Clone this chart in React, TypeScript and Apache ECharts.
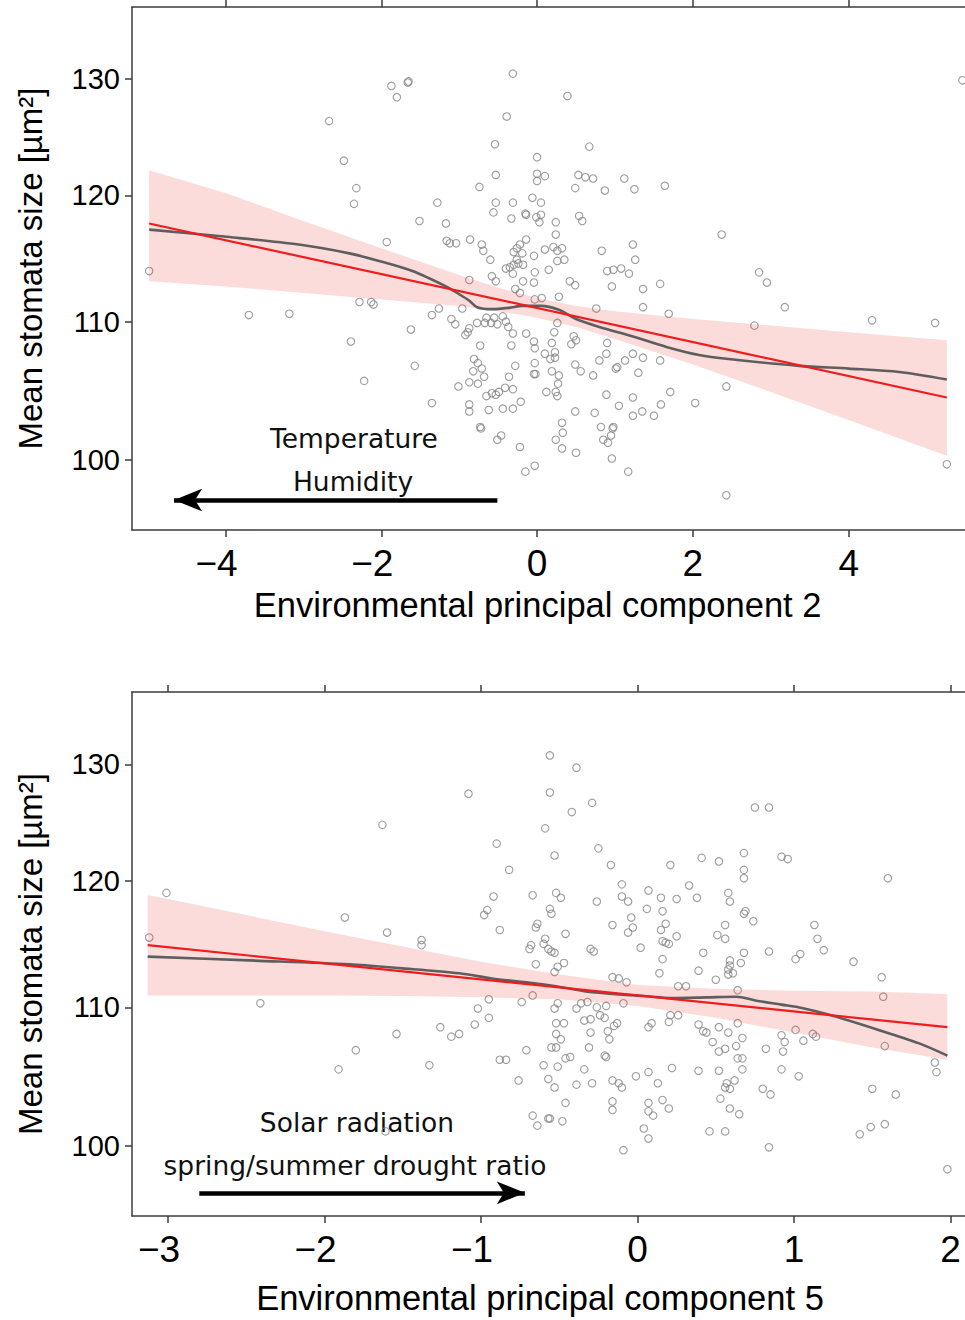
import React, { useEffect, useRef } from "react";
import * as echarts from "echarts";

// ---------- tick labels ----------
const pc2Ticks = [-4, -2, 0, 2, 4];
const pc5Ticks = [-3, -2, -1, 0, 1, 2];
const sizeTicks = [100, 110, 120, 130];

// ---------- panel 1: PC2 ----------
const pc2Scatter: number[][] = [
  [-4.98, 113.9], [-3.7, 110.5], [-3.18, 110.6], [-2.67, 126.3], [-2.48, 122.9], [-2.39, 108.5], [-2.35, 119.3],
  [-2.32, 120.6], [-2.28, 111.5], [-2.22, 105.6], [-2.13, 111.5], [-2.1, 111.3],
  [-0.31, 130.5], [-1.87, 129.4], [-1.66, 129.7], [-1.65, 129.8], [-1.8, 128.4], [-0.39, 126.7], [-0.54, 124.3],
  [0.0, 123.2], [-0.53, 121.7], [0.0, 121.8], [0.1, 121.6], [0.0, 121.2], [-0.74, 120.7], [-0.06, 119.8],
  [0.05, 119.4], [-0.53, 119.4], [-0.31, 119.4], [-0.56, 118.6], [-1.28, 119.4], [-0.15, 118.5], [-0.14, 118.4],
  [-0.01, 118.2], [0.05, 118.4], [0.03, 117.8], [-0.33, 118.1], [-1.51, 117.9], [-1.17, 117.7], [0.24, 117.8],
  [0.24, 116.8], [-1.93, 116.2], [-1.16, 116.3], [-1.12, 116.1], [-1.04, 116.1], [-0.86, 116.4], [-0.71, 116.0],
  [-0.69, 115.5], [-0.14, 116.4], [-0.22, 116.0], [-0.26, 115.7], [0.1, 115.6], [0.21, 115.8], [0.26, 115.5],
  [-0.3, 115.4], [-0.19, 115.3], [-0.04, 115.1], [-0.6, 114.8], [-0.4, 114.1], [-0.35, 114.2], [-0.3, 114.4],
  [-0.24, 114.5], [-0.18, 114.4], [-0.26, 114.8], [-0.31, 113.7], [-0.03, 113.8], [0.15, 114.0], [0.26, 114.7],
  [-0.58, 113.5], [-0.53, 113.1], [-0.18, 113.1], [-0.04, 113.0], [-0.87, 113.2], [-0.28, 112.5], [-0.22, 112.2],
  [0.06, 111.8], [-0.03, 111.7], [-1.26, 111.0], [-1.35, 110.5], [-0.96, 111.0], [-1.1, 110.2], [-1.05, 109.8],
  [-1.62, 109.4], [-0.87, 109.5], [-0.92, 109.0], [-0.89, 109.2], [-0.77, 109.9], [-0.65, 110.3], [-0.67, 109.9],
  [-0.59, 109.9], [-0.51, 109.8], [-0.55, 110.3], [-0.44, 110.4], [-0.4, 110.0], [-0.37, 109.6], [-0.31, 109.1],
  [-0.14, 109.1], [0.22, 109.2], [0.26, 109.9], [-0.73, 108.2], [-0.33, 108.2], [-0.04, 108.5], [-0.03, 108.0],
  [0.1, 107.6], [0.19, 108.4], [0.23, 107.7], [0.17, 107.2], [0.23, 107.3], [-1.57, 106.7], [-0.81, 107.2],
  [-0.76, 106.9], [-0.71, 106.5], [-0.82, 106.3], [-0.68, 105.9], [-0.28, 106.7], [-0.03, 106.9], [-0.04, 106.1],
  [-0.02, 106.1], [0.19, 106.3], [-0.36, 105.9], [-1.01, 105.2], [-0.87, 105.5], [-0.76, 105.4], [-0.65, 104.5],
  [-0.58, 104.7], [-0.53, 104.6], [-0.49, 104.8], [-0.41, 105.1], [-0.31, 105.0], [0.12, 104.8], [0.24, 104.8],
  [0.26, 104.5], [0.27, 105.4], [-1.35, 104.0], [-0.87, 103.9], [-0.87, 103.4], [-0.62, 103.5], [-0.44, 103.6],
  [-0.31, 103.6], [-0.21, 104.1], [-0.73, 102.3], [-0.72, 102.2], [-0.46, 101.7], [-0.51, 101.4], [-0.22, 100.9],
  [0.24, 101.4], [-0.03, 99.6], [-0.15, 99.2],
  [0.39, 128.5], [0.67, 124.1], [0.53, 121.7], [0.62, 121.5], [0.72, 121.4], [1.12, 121.4], [0.49, 120.6],
  [0.87, 120.4], [1.25, 120.5], [1.64, 120.8], [0.54, 118.3], [0.58, 117.9], [2.37, 116.8], [0.32, 115.7],
  [0.35, 114.8], [0.83, 115.5], [1.23, 116.0], [1.26, 114.8], [0.9, 113.9], [0.98, 114.0], [1.08, 114.1],
  [1.18, 113.7], [0.42, 113.1], [0.49, 112.8], [0.96, 112.7], [1.36, 112.5], [1.58, 112.9], [0.28, 111.9],
  [0.76, 111.0], [1.36, 111.1], [1.69, 110.6], [0.47, 108.9], [0.5, 108.6], [0.44, 108.3], [0.9, 108.4],
  [0.89, 107.6], [1.23, 107.6], [1.36, 107.3], [1.58, 107.1], [0.8, 107.1], [1.13, 107.1], [0.49, 106.8],
  [0.56, 106.3], [1.03, 106.6], [1.01, 106.5], [1.3, 106.2], [0.72, 106.0], [0.28, 106.0], [2.43, 105.2],
  [1.71, 104.8], [2.03, 104.0], [0.89, 104.6], [1.23, 104.4], [1.05, 103.8], [1.59, 103.9], [0.49, 103.4],
  [0.74, 103.3], [1.23, 103.1], [1.35, 103.4], [1.5, 103.1], [0.32, 102.6], [0.33, 101.9], [0.82, 102.3],
  [0.98, 102.3], [0.97, 102.2], [0.95, 101.7], [0.91, 101.2], [0.85, 101.4], [0.32, 100.8], [0.5, 100.5],
  [0.96, 100.1], [1.17, 99.2], [2.43, 97.6],
  [2.85, 113.8], [2.95, 113.0], [3.18, 111.1], [2.79, 109.7], [4.3, 110.1], [5.11, 109.9], [5.26, 99.7], [5.46, 129.9],
];
const pc2Fit: number[][] = [[-4.98, 117.7], [5.26, 104.4]];
const pc2BandX = [-4.98, -4, -3, -2, -1, -0.5, 0, 0.5, 1, 2, 3, 4, 5.26];
const pc2BandHi = [122.1, 120.2, 117.9, 115.7, 113.6, 112.6, 111.8, 111.2, 110.8, 110.2, 109.7, 109.2, 108.6];
const pc2BandLo = [113.1, 112.7, 112.2, 111.7, 111.2, 110.8, 110.3, 109.6, 108.7, 106.8, 104.8, 102.8, 100.3];
const pc2Loess: number[][] = [
  [-4.98, 117.2], [-3.95, 116.6], [-3.06, 116.0], [-2.41, 115.3], [-2.03, 114.7], [-1.6, 113.9], [-1.17, 112.7],
  [-1.0, 112.1], [-0.87, 111.6], [-0.77, 111.1], [-0.58, 110.95], [-0.36, 111.05], [-0.19, 111.2], [0.05, 111.2],
  [0.28, 110.9], [0.5, 110.2], [0.8, 109.6], [1.22, 108.9], [1.66, 108.1], [2.08, 107.5], [2.46, 107.2],
  [3.36, 106.7], [4.0, 106.5], [4.65, 106.25], [5.26, 105.7],
];

// ---------- panel 2: PC5 ----------
const pc5Scatter: number[][] = [
  [-0.56, 130.8], [-0.39, 129.7], [-1.08, 127.4], [-0.56, 127.5], [-0.29, 126.6], [-0.42, 125.8], [-0.59, 124.4],
  [-0.9, 123.1], [-0.25, 122.7], [-0.53, 122.1], [-0.82, 120.9], [-0.17, 121.3], [-0.1, 119.7], [-0.92, 118.7],
  [-0.67, 118.8], [-0.52, 119.0], [-0.49, 118.6], [-0.26, 118.3], [-0.1, 118.7], [-0.06, 118.3], [0.07, 119.2],
  [0.06, 117.7], [-0.96, 117.6], [-0.98, 117.2], [-0.56, 117.7], [-0.55, 117.3], [-0.04, 117.0], [-0.64, 116.5],
  [-0.65, 116.2], [-0.88, 116.0], [-0.46, 115.7], [-0.16, 116.4], [-0.03, 116.2], [-0.06, 115.8], [-0.59, 115.3],
  [-0.6, 114.9], [-0.57, 114.5], [-0.55, 114.3], [-0.53, 114.2], [-0.68, 114.8], [-0.69, 114.5], [-0.3, 114.5],
  [-0.28, 114.3], [0.02, 114.6], [-0.65, 113.3], [-0.47, 113.4], [-0.51, 113.1], [-0.53, 112.7], [-0.16, 112.3],
  [-0.12, 112.2], [-0.07, 111.9], [-0.74, 110.4], [-0.67, 110.9], [-0.95, 110.6], [-1.02, 109.9], [-0.95, 109.2],
  [-1.04, 108.7], [-1.14, 108.0], [-0.51, 110.3], [-0.53, 109.9], [-0.39, 109.9], [-0.36, 110.3], [-0.32, 110.4],
  [-0.26, 110.0], [-0.2, 110.1], [-0.09, 110.3], [-0.52, 108.8], [-0.47, 108.8], [-0.34, 109.0], [-0.3, 109.1],
  [-0.24, 109.4], [-0.21, 109.2], [0.07, 108.5], [-0.3, 108.1], [-0.19, 108.2], [-0.18, 107.6], [-0.15, 108.6],
  [-0.13, 108.8], [-0.52, 108.0], [-0.49, 107.6], [-0.55, 107.0], [-0.52, 107.0], [-0.31, 107.0], [-0.71, 106.8],
  [-0.88, 106.1], [-0.84, 106.1], [-0.46, 106.2], [-0.43, 106.3], [-0.21, 106.4], [-0.2, 106.3], [-0.6, 105.7],
  [-0.51, 105.6], [-0.34, 105.4], [-0.76, 104.6], [-0.57, 104.7], [-0.53, 104.1], [-0.39, 104.3], [-0.29, 104.4],
  [-0.16, 104.6], [-0.12, 104.4], [-0.1, 104.1], [-0.01, 104.9], [0.07, 105.2], [-0.46, 103.0], [-0.16, 103.1],
  [-0.16, 102.5], [0.07, 103.0], [0.07, 102.4], [-0.67, 102.1], [-0.64, 101.4], [-0.57, 101.9], [-0.56, 101.9],
  [-0.48, 101.7], [0.04, 101.2], [0.07, 100.5], [-0.09, 99.7],
  [0.75, 126.2], [0.84, 126.2], [0.41, 121.9], [0.52, 121.6], [0.68, 122.3], [0.92, 122.0], [0.96, 121.8],
  [0.21, 121.3], [0.68, 120.9], [0.68, 120.2], [0.33, 119.6], [0.15, 118.6], [0.25, 118.5], [0.38, 118.6],
  [0.58, 119.0], [0.59, 118.3], [0.16, 117.5], [0.69, 117.5], [0.68, 117.3], [0.74, 116.7], [0.18, 116.5],
  [0.15, 116.0], [0.25, 115.5], [0.56, 116.4], [0.51, 115.6], [0.56, 115.3], [0.16, 115.1], [0.18, 115.0],
  [0.2, 114.9], [1.13, 116.4], [1.15, 115.3], [1.19, 114.4], [0.16, 113.7], [0.42, 114.2], [0.68, 114.2],
  [0.84, 114.3], [1.04, 114.1], [1.01, 113.7], [0.59, 113.6], [0.59, 113.2], [0.58, 112.9], [0.61, 112.6],
  [0.58, 112.5], [0.66, 113.4], [0.14, 112.6], [0.39, 112.8], [0.5, 112.1], [0.26, 111.6], [0.31, 111.6],
  [0.64, 111.3], [0.21, 109.4], [0.2, 108.9], [0.26, 109.4], [0.09, 108.8], [0.39, 108.7], [0.42, 108.2],
  [0.44, 108.1], [0.52, 108.5], [0.58, 108.1], [0.64, 108.8], [0.67, 107.7], [0.48, 107.4], [0.52, 106.7],
  [0.56, 106.9], [0.63, 107.1], [0.64, 106.2], [0.67, 106.2], [0.82, 106.9], [0.92, 107.9], [0.94, 107.4],
  [0.93, 106.7], [1.01, 108.3], [1.06, 107.5], [1.12, 108.0], [1.14, 107.8], [0.22, 105.5], [0.39, 105.3],
  [0.52, 105.3], [0.67, 105.4], [0.92, 105.4], [1.03, 104.9], [0.13, 104.4], [0.57, 104.4], [0.56, 104.1],
  [0.59, 104.0], [0.62, 104.6], [0.8, 104.0], [0.85, 103.6], [0.53, 103.3], [0.16, 103.2], [0.1, 102.1],
  [0.2, 102.6], [0.59, 102.6], [0.65, 102.2], [0.46, 101.0], [0.56, 101.0], [0.84, 99.9],
  [-3.12, 115.4], [-3.01, 119.0], [-2.41, 110.3], [-1.87, 117.0], [-1.63, 124.7], [-1.6, 115.8], [-1.38, 115.2],
  [-1.38, 114.8], [-1.54, 108.0], [-1.8, 106.8], [-1.91, 105.4], [-1.33, 105.7], [-1.61, 101.0], [-1.19, 107.8],
  [-1.26, 108.5],
  [1.38, 113.5], [1.6, 120.2], [1.56, 112.3], [1.57, 110.8], [1.58, 107.1], [1.5, 104.0], [1.65, 103.6],
  [1.42, 100.8], [1.49, 101.3], [1.58, 101.5], [1.9, 105.9], [1.91, 105.2], [1.98, 98.4],
];
const pc5Fit: number[][] = [[-3.13, 114.8], [1.98, 108.5]];
const pc5BandX = [-3.13, -3, -2.5, -2, -1.5, -1, -0.5, 0, 0.5, 1, 1.5, 1.98];
const pc5BandHi = [118.8, 118.5, 117.2, 115.9, 114.7, 113.5, 112.5, 111.7, 111.4, 111.25, 111.2, 111.0];
const pc5BandLo = [110.9, 110.9, 110.9, 110.9, 110.85, 110.75, 110.6, 110.1, 109.2, 108.1, 107.0, 106.1];
const pc5Loess: number[][] = [
  [-3.13, 113.9], [-2.48, 113.6], [-1.84, 113.3], [-1.52, 113.0], [-1.14, 112.6], [-0.93, 112.2], [-0.71, 111.9],
  [-0.52, 111.6], [-0.33, 111.2], [-0.14, 111.0], [0.04, 110.85], [0.22, 110.7], [0.44, 110.75], [0.63, 110.8],
  [0.76, 110.5], [0.92, 110.2], [1.05, 109.95], [1.22, 109.45], [1.54, 108.3], [1.8, 107.3], [1.98, 106.4],
];

// ---------- annotation arrows (data coords: tail -> tip) ----------
const pc2Arrow = { from: [-0.51, 97.28], to: [-4.66, 97.28] };
const pc5Arrow = { from: [-2.8, 96.82], to: [-0.72, 96.82] };

const Y_MIN = 95.29;
const Y_MAX = 136.63;

const L = (v: number) => Math.log10(v);
const toLog = (pts: number[][]) => pts.map(([x, y]) => [x, L(y)]);

const AXIS_COLOR = "#3c3c3c";
const SANS = '"Liberation Sans", Arial, Helvetica, sans-serif';
const BAND_FILL = "rgba(236,40,40,0.17)";

function xAxes(grid: number, min: number, max: number, ticks: number[], name: string, nameGap: number, nameShift: number) {
  const line = { show: true, onZero: false, lineStyle: { color: AXIS_COLOR, width: 1.5 } };
  const tick = { show: true, customValues: ticks, length: 7, inside: false, lineStyle: { color: AXIS_COLOR, width: 1.5 } };
  const lab = { fontSize: 37, color: "#000", fontFamily: SANS };
  return [
    {
      gridIndex: grid, type: "value", min, max, position: "bottom",
      axisLine: line, axisTick: tick,
      axisLabel: {
        customValues: ticks, margin: 15,
        formatter: (v: number) => (v < 0 ? "{n|\u2212" + Math.abs(v) + "}" : "{p|" + v + "}"),
        rich: { n: { ...lab, padding: [0, 18, 0, 0] }, p: { ...lab } },
      },
      splitLine: { show: false },
      name, nameLocation: "middle", nameGap,
      nameTextStyle: { fontSize: 34.5, color: "#000", fontFamily: SANS, padding: [0, nameShift, 0, 0] },
    },
    {
      gridIndex: grid, type: "value", min, max, position: "top",
      axisLine: line, axisTick: tick, axisLabel: { show: false }, splitLine: { show: false },
    },
  ];
}

function yAxis(grid: number) {
  const vals = sizeTicks.map(L);
  return {
    gridIndex: grid, type: "value", min: L(Y_MIN), max: L(Y_MAX),
    axisLine: { show: true, onZero: false, lineStyle: { color: AXIS_COLOR, width: 1.5 } },
    axisTick: { show: true, customValues: vals, length: 7, lineStyle: { color: AXIS_COLOR, width: 1.5 } },
    axisLabel: {
      customValues: vals, formatter: (v: number) => String(Math.round(Math.pow(10, v))),
      fontSize: 29, color: "#000", margin: 12, fontFamily: SANS,
    },
    splitLine: { show: false },
    name: "Mean stomata size [µm²]", nameLocation: "middle", nameGap: 85,
    nameTextStyle: { fontSize: 33, color: "#000", fontFamily: SANS },
  };
}

function panelSeries(
  xIdx: number, yIdx: number,
  scatter: number[][], fit: number[][], bx: number[], bhi: number[], blo: number[], loess: number[][],
  arrow: { from: number[]; to: number[] }
) {
  return [
    {
      type: "custom", xAxisIndex: xIdx, yAxisIndex: yIdx, silent: true, z: 3,
      data: bx.map((x, i) => [x, L(blo[i]), L(bhi[i])]),
      encode: { x: 0, y: [1, 2] },
      renderItem: (params: any, api: any) => {
        if (params.dataIndex !== 0) return { type: "group", children: [] };
        const upper = bx.map((x, i) => api.coord([x, L(bhi[i])]));
        const lower = bx.map((x, i) => api.coord([x, L(blo[i])])).reverse();
        return { type: "polygon", shape: { points: upper.concat(lower) }, style: { fill: BAND_FILL } };
      },
    },
    {
      type: "scatter", xAxisIndex: xIdx, yAxisIndex: yIdx, data: toLog(scatter),
      symbol: "circle", symbolSize: 7.5, silent: true, z: 2,
      itemStyle: { color: "rgba(255,255,255,0)", borderColor: "#858585", borderWidth: 1.1 },
    },
    {
      type: "line", xAxisIndex: xIdx, yAxisIndex: yIdx, data: toLog(loess),
      symbol: "none", silent: true, smooth: 0.3, lineStyle: { color: "#5e5e5e", width: 2.6 }, z: 4,
    },
    {
      type: "line", xAxisIndex: xIdx, yAxisIndex: yIdx, data: toLog(fit),
      symbol: "none", silent: true, lineStyle: { color: "#f01c1c", width: 2.2 }, z: 5,
      markLine: {
        silent: true, animation: false,
        label: { show: false },
        lineStyle: { color: "#000", width: 4.5, type: "solid" },
        emphasis: { disabled: true },
        data: [[
          { coord: [arrow.from[0], L(arrow.from[1])], symbol: "none" },
          { coord: [arrow.to[0], L(arrow.to[1])], symbol: "arrow", symbolSize: [17, 28] },
        ]],
      },
    },
  ];
}

const ANNO_FONT = '"DejaVu Sans", sans-serif';
function annoText(x: number, y: number, text: string) {
  return {
    type: "text", x, y, silent: true,
    style: { text, fontSize: 26.5, fontFamily: ANNO_FONT, fill: "#111", align: "center", verticalAlign: "middle" },
  };
}

export default function App() {
  const ref = useRef<HTMLDivElement>(null);
  useEffect(() => {
    if (!ref.current) return;
    const chart = echarts.init(ref.current, null, { renderer: "svg" });
    const option: any = {
      animation: false,
      backgroundColor: "#fff",
      grid: [
        { left: 132, top: 7, width: 841.3, height: 523, outerBoundsMode: "none" },
        { left: 132, top: 692, width: 842, height: 524, outerBoundsMode: "none" },
      ],
      xAxis: [
        ...xAxes(0, -5.2, 5.6, pc2Ticks, "Environmental principal component 2", 57, 30),
        ...xAxes(1, -3.23, 2.15, pc5Ticks, "Environmental principal component 5", 64, 26),
      ],
      yAxis: [yAxis(0), yAxis(1)],
      series: [
        ...panelSeries(0, 0, pc2Scatter, pc2Fit, pc2BandX, pc2BandHi, pc2BandLo, pc2Loess, pc2Arrow),
        ...panelSeries(2, 1, pc5Scatter, pc5Fit, pc5BandX, pc5BandHi, pc5BandLo, pc5Loess, pc5Arrow),
      ],
      graphic: [
        annoText(354, 438, "Temperature"),
        annoText(353, 481, "Humidity"),
        annoText(357, 1122, "Solar radiation"),
        annoText(355, 1165, "spring/summer drought ratio"),
      ],
    };
    chart.setOption(option);
    return () => chart.dispose();
  }, []);
  return (
    <div style={{ position: "absolute", left: 0, top: 0, width: 965, height: 1320, overflow: "hidden", background: "#fff" }}>
      <div ref={ref} style={{ width: 1000, height: 1320 }} />
    </div>
  );
}
